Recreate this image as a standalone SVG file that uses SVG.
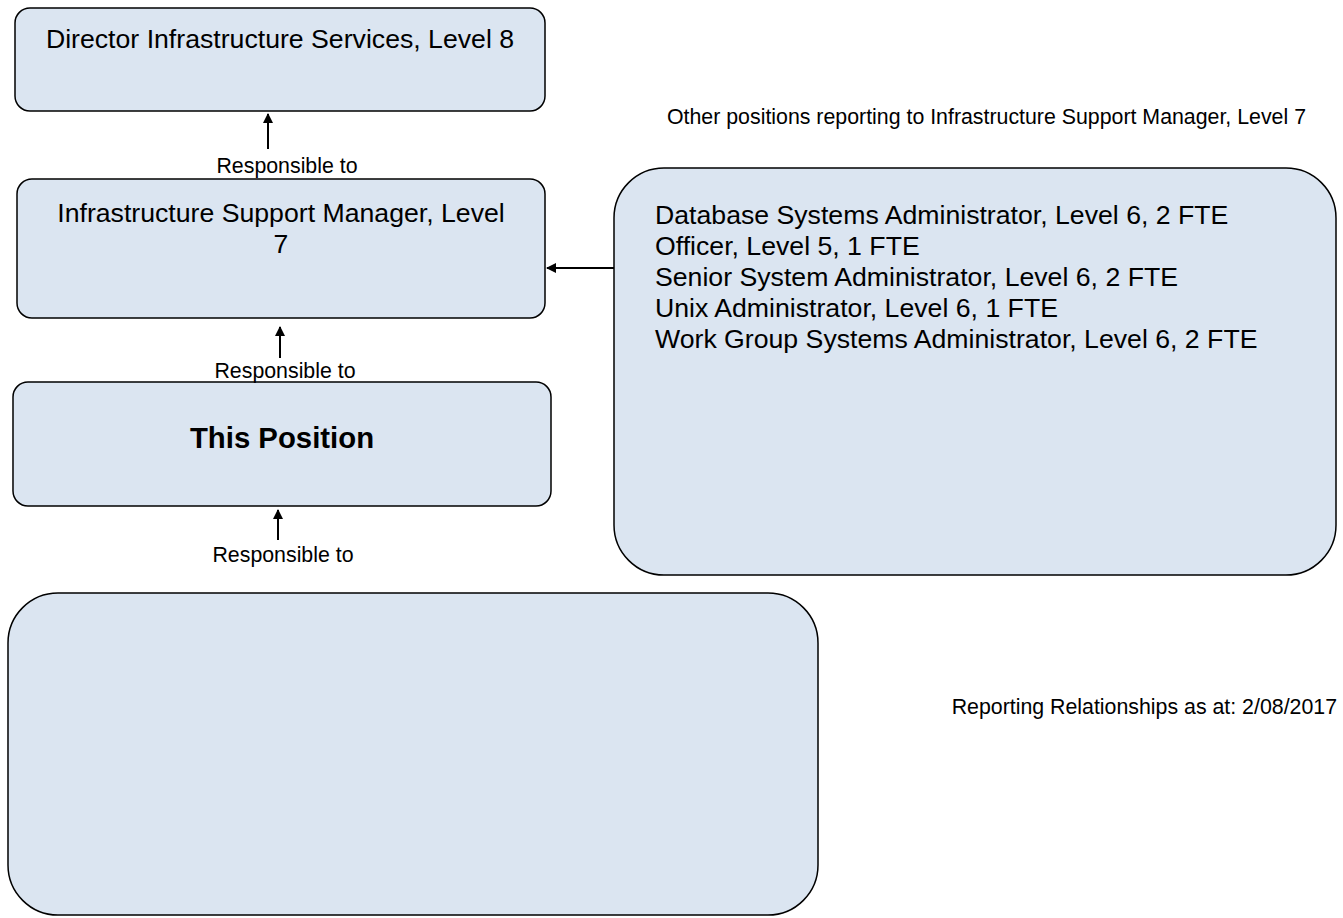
<svg xmlns="http://www.w3.org/2000/svg" width="1343" height="918" viewBox="0 0 1343 918">
<style>
.box{fill:#dbe5f1;stroke:#000;stroke-width:1.5}
.t{font-family:"Liberation Sans",Arial,sans-serif;fill:#000}
.big{font-size:26.67px}
.sm{font-size:21.33px}
.conn{stroke:#000;stroke-width:2;fill:none}
</style>
<defs>
<marker id="ah" viewBox="0 0 10 10" refX="9" refY="5" markerWidth="5" markerHeight="5" orient="auto" markerUnits="strokeWidth"><path d="M0,0L10,5L0,10z" fill="#000"/></marker>
</defs>
<rect width="1343" height="918" fill="#fff"/>
<g id="director">
<rect class="box" x="15" y="8" width="530" height="103" rx="15"/>
<text class="t big" x="280" y="48" text-anchor="middle">Director Infrastructure Services, Level 8</text>
</g>
<g id="manager">
<rect class="box" x="17" y="179" width="528" height="139" rx="15"/>
<text class="t big" x="281" y="222" text-anchor="middle">Infrastructure Support Manager, Level</text>
<text class="t big" x="281" y="253" text-anchor="middle">7</text>
</g>
<g id="this-position">
<rect class="box" x="13" y="382" width="538" height="124" rx="15"/>
<text class="t" x="282" y="448" text-anchor="middle" font-size="29.33" font-weight="bold">This Position</text>
</g>
<g id="others">
<rect class="box" x="614" y="168" width="722" height="407" rx="50"/>
<text class="t big" x="655" y="224">Database Systems Administrator, Level 6, 2 FTE</text>
<text class="t big" x="655" y="255">Officer, Level 5, 1 FTE</text>
<text class="t big" x="655" y="286">Senior System Administrator, Level 6, 2 FTE</text>
<text class="t big" x="655" y="317">Unix Administrator, Level 6, 1 FTE</text>
<text class="t big" x="655" y="348">Work Group Systems Administrator, Level 6, 2 FTE</text>
</g>
<g id="subordinates">
<rect class="box" x="8" y="593" width="810" height="322" rx="50"/>
</g>
<g id="labels">
<text class="t sm" x="1306" y="124" text-anchor="end">Other positions reporting to Infrastructure Support Manager, Level 7</text>
<text class="t sm" x="1337" y="714" text-anchor="end">Reporting Relationships as at: 2/08/2017</text>
</g>
<g id="connectors">
<line class="conn" x1="268" y1="149" x2="268" y2="114" marker-end="url(#ah)"/>
<text class="t sm" x="287" y="173" text-anchor="middle">Responsible to</text>
<line class="conn" x1="280" y1="358" x2="280" y2="327" marker-end="url(#ah)"/>
<text class="t sm" x="285" y="378" text-anchor="middle">Responsible to</text>
<line class="conn" x1="278" y1="540" x2="278" y2="510" marker-end="url(#ah)"/>
<text class="t sm" x="283" y="562" text-anchor="middle">Responsible to</text>
<line class="conn" x1="614" y1="268" x2="547" y2="268" marker-end="url(#ah)"/>
</g>
</svg>
